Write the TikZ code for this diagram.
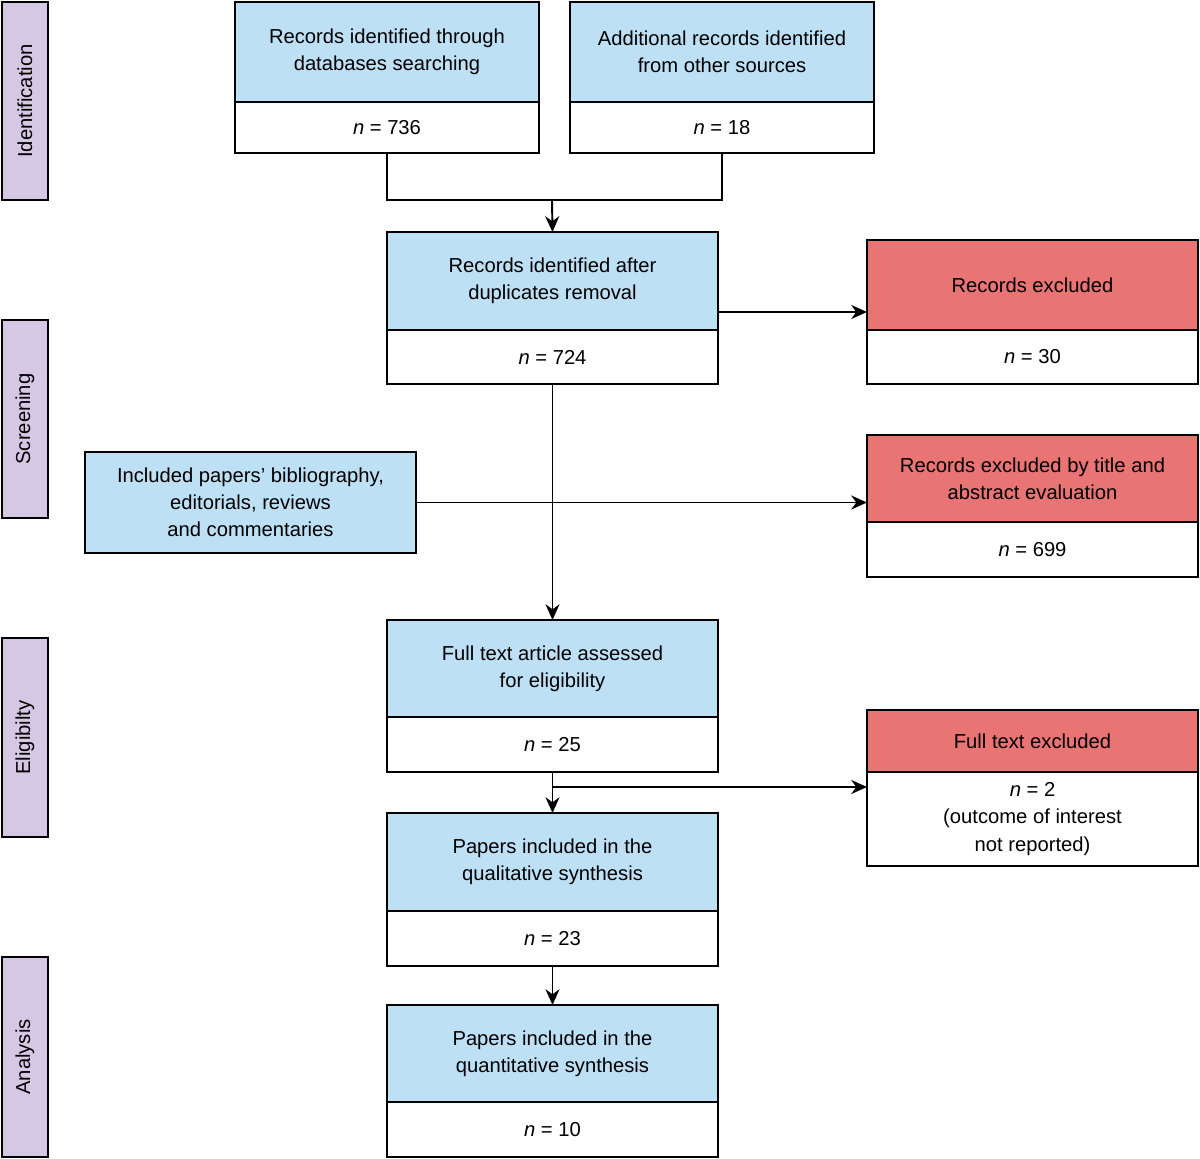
\documentclass[tikz,border=0pt]{standalone}
\usepackage{fontspec}
\setmainfont{Liberation Sans}
\usetikzlibrary{arrows.meta}
\definecolor{bl}{HTML}{BEE0F5}
\definecolor{rd}{HTML}{E87474}
\definecolor{pu}{HTML}{D5C8E4}
\tikzset{
 bx/.style={draw=black, line width=1.1pt, inner sep=0pt, outer sep=0pt, align=center, font=\fontsize{11.5}{15.5}\selectfont},
 blue/.style={bx, fill=bl},
 red/.style={bx, fill=rd},
 white/.style={bx, fill=white},
 side/.style={bx, fill=pu, rotate=90},
 ln/.style={line width=1.1pt},
 ar/.style={ln, -{Stealth[length=9pt,width=8pt]}}
}
\newcommand\bx[7]{\node[#6, minimum width={(#4-#2)*0.02cm}, minimum height={(#5-#3)*0.02cm}] (#1) at ({(#2+#4)/2},{(#3+#5)/2}) {#7};}
\begin{document}
\begin{tikzpicture}[x=0.02cm,y=-0.02cm]
\useasboundingbox (0,0) rectangle (1200,1159);
% side labels
\node[side, minimum width=3.96cm, minimum height=0.92cm] (s1) at (25,101) {Identification};
\node[side, minimum width=3.96cm, minimum height=0.92cm] (s2) at (25,419) {Screening};
\node[side, minimum width=3.98cm, minimum height=0.92cm] (s3) at (25,737.5) {Eligibilty};
\node[side, minimum width=4.00cm, minimum height=0.92cm] (s4) at (25,1057) {Analysis};
% boxes
\bx{A1}{235}{2}{539}{102}{blue}{Records identified through\\databases searching}
\bx{A2}{235}{102}{539}{153}{white}{\textit{n} = 736}
\bx{B1}{570}{2}{874}{102}{blue}{Additional records identified\\from other sources}
\bx{B2}{570}{102}{874}{153}{white}{\textit{n} = 18}
\bx{C1}{387}{232}{718}{330}{blue}{Records identified after\\duplicates removal}
\bx{C2}{387}{330}{718}{384}{white}{\textit{n} = 724}
\bx{D1}{867}{240}{1198}{330}{red}{Records excluded}
\bx{D2}{867}{330}{1198}{384}{white}{\textit{n} = 30}
\bx{E}{85}{452}{416}{553}{blue}{Included papers' bibliography,\\editorials, reviews\\and commentaries}
\bx{F1}{867}{435}{1198}{522}{red}{Records excluded by title and\\abstract evaluation}
\bx{F2}{867}{522}{1198}{577}{white}{\textit{n} = 699}
\bx{G1}{387}{620}{718}{717}{blue}{Full text article assessed\\for eligibility}
\bx{G2}{387}{717}{718}{772}{white}{\textit{n} = 25}
\bx{H1}{867}{710}{1198}{772}{red}{Full text excluded}
\bx{H2}{867}{772}{1198}{866}{white}{\textit{n} = 2\\(outcome of interest\\not reported)}
\bx{I1}{387}{813}{718}{911}{blue}{Papers included in the\\qualitative synthesis}
\bx{I2}{387}{911}{718}{966}{white}{\textit{n} = 23}
\bx{J1}{387}{1005}{718}{1102}{blue}{Papers included in the\\quantitative synthesis}
\bx{J2}{387}{1102}{718}{1157}{white}{\textit{n} = 10}
% connectors
\coordinate (j) at (552,200);
\coordinate (k) at (552,787);
\draw[ln] (A2.south) |- (j) -| (B2.south);
\draw[ar] (j) -- (C1.north);
\draw[ar] (C1.east |- 0,312) -- (D1.west |- 0,312);
\draw[ar] (C2.south) -- (G1.north);
\draw[ar] (E.east) -- (F1.west |- E.east);
\draw[ar] (k) -- (H2.west |- k);
\draw[ar] (G2.south) -- (I1.north);
\draw[ar] (I2.south) -- (J1.north);
\end{tikzpicture}
\end{document}
